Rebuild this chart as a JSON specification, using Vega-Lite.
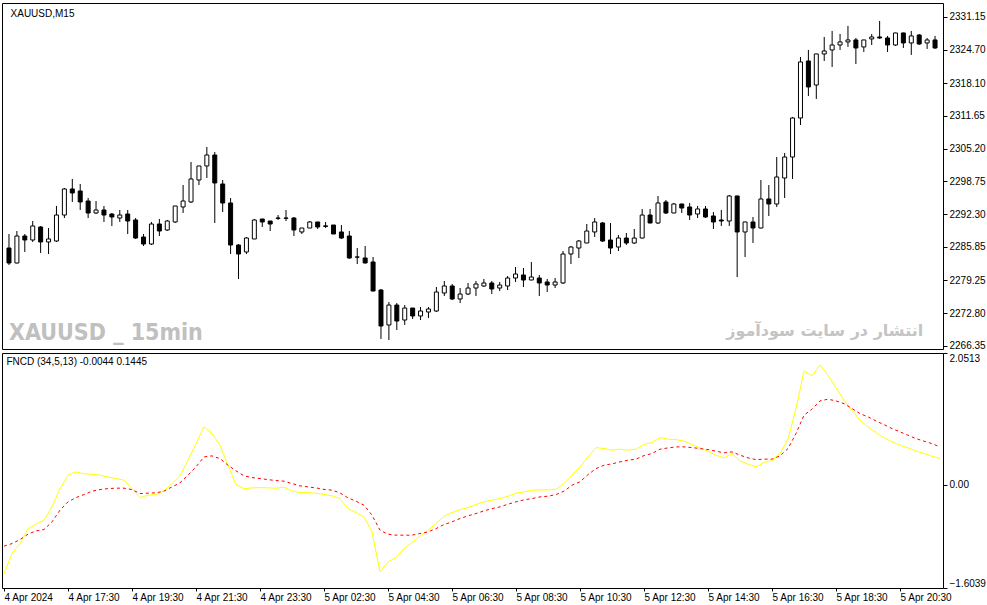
{
  "$schema": "https://vega.github.io/schema/vega-lite/v6.json",
  "background": "white",
  "padding": {"left": 1, "top": 2, "right": 0, "bottom": 0},
  "spacing": 0,
  "config": {
    "font": "Liberation Sans",
    "view": {"stroke": "black", "strokeWidth": 1},
    "axis": {
      "grid": false, "domain": false, "title": null,
      "tickColor": "black", "tickSize": 4,
      "labelColor": "black", "labelFontSize": 10, "labelFont": "Liberation Sans",
      "labelOverlap": false
    }
  },
  "datasets": {
    "bars": [
      {"i":0,"o":2285.64,"h":2288.40,"l":2282.30,"c":2282.69,"m":-1.380,"s":-0.953},
      {"i":1,"o":2282.69,"h":2288.99,"l":2282.60,"c":2288.01,"m":-1.068,"s":-0.913},
      {"i":2,"o":2288.01,"h":2288.40,"l":2284.86,"c":2287.22,"m":-0.913,"s":-0.851},
      {"i":3,"o":2287.22,"h":2290.96,"l":2286.83,"c":2289.98,"m":-0.680,"s":-0.767},
      {"i":4,"o":2289.78,"h":2289.98,"l":2284.66,"c":2286.83,"m":-0.611,"s":-0.715},
      {"i":5,"o":2286.83,"h":2289.58,"l":2284.46,"c":2287.42,"m":-0.549,"s":-0.695},
      {"i":6,"o":2287.02,"h":2293.92,"l":2286.83,"c":2292.14,"m":-0.342,"s":-0.575},
      {"i":7,"o":2292.14,"h":2297.46,"l":2291.55,"c":2297.27,"m":-0.058,"s":-0.393},
      {"i":8,"o":2297.27,"h":2299.24,"l":2294.71,"c":2296.48,"m":0.151,"s":-0.264},
      {"i":9,"o":2296.87,"h":2298.25,"l":2293.13,"c":2294.71,"m":0.202,"s":-0.198},
      {"i":10,"o":2294.90,"h":2295.49,"l":2291.55,"c":2292.54,"m":0.171,"s":-0.151},
      {"i":11,"o":2292.54,"h":2294.90,"l":2292.34,"c":2293.13,"m":0.166,"s":-0.098},
      {"i":12,"o":2293.13,"h":2293.92,"l":2290.77,"c":2292.14,"m":0.151,"s":-0.073},
      {"i":13,"o":2292.34,"h":2292.54,"l":2289.98,"c":2291.75,"m":0.124,"s":-0.058},
      {"i":14,"o":2291.55,"h":2293.13,"l":2290.77,"c":2292.14,"m":0.098,"s":-0.051},
      {"i":15,"o":2292.34,"h":2293.13,"l":2288.40,"c":2290.96,"m":0.073,"s":-0.051},
      {"i":16,"o":2291.16,"h":2291.55,"l":2287.42,"c":2287.61,"m":-0.058,"s":-0.073},
      {"i":17,"o":2287.81,"h":2288.40,"l":2286.04,"c":2286.43,"m":-0.198,"s":-0.135},
      {"i":18,"o":2286.43,"h":2290.77,"l":2286.23,"c":2290.37,"m":-0.160,"s":-0.129},
      {"i":19,"o":2290.37,"h":2291.36,"l":2288.01,"c":2288.99,"m":-0.151,"s":-0.124},
      {"i":20,"o":2289.19,"h":2291.16,"l":2288.99,"c":2290.96,"m":-0.093,"s":-0.098},
      {"i":21,"o":2290.77,"h":2293.92,"l":2290.57,"c":2293.92,"m":0.020,"s":-0.031},
      {"i":22,"o":2293.72,"h":2298.05,"l":2292.54,"c":2294.90,"m":0.140,"s":0.031},
      {"i":23,"o":2294.71,"h":2302.59,"l":2294.51,"c":2299.24,"m":0.384,"s":0.151},
      {"i":24,"o":2299.04,"h":2301.80,"l":2298.05,"c":2301.80,"m":0.642,"s":0.280},
      {"i":25,"o":2301.80,"h":2305.54,"l":2299.43,"c":2303.96,"m":0.902,"s":0.435},
      {"i":26,"o":2303.96,"h":2304.56,"l":2290.57,"c":2298.45,"m":0.798,"s":0.451},
      {"i":27,"o":2298.25,"h":2299.04,"l":2292.74,"c":2294.51,"m":0.617,"s":0.409},
      {"i":28,"o":2294.51,"h":2295.49,"l":2284.46,"c":2286.23,"m":0.306,"s":0.306},
      {"i":29,"o":2286.23,"h":2286.43,"l":2279.54,"c":2284.46,"m":0.005,"s":0.218},
      {"i":30,"o":2284.86,"h":2287.81,"l":2284.46,"c":2287.61,"m":-0.058,"s":0.140},
      {"i":31,"o":2287.42,"h":2291.36,"l":2287.42,"c":2291.16,"m":-0.047,"s":0.114},
      {"i":32,"o":2291.36,"h":2291.36,"l":2289.78,"c":2290.77,"m":-0.042,"s":0.098},
      {"i":33,"o":2290.96,"h":2290.96,"l":2288.99,"c":2290.37,"m":-0.047,"s":0.082},
      {"i":34,"o":2291.55,"h":2292.14,"l":2291.16,"c":2291.50,"m":-0.051,"s":0.067},
      {"i":35,"o":2291.55,"h":2293.13,"l":2290.96,"c":2291.50,"m":-0.036,"s":0.058},
      {"i":36,"o":2291.55,"h":2291.75,"l":2288.01,"c":2289.19,"m":-0.093,"s":0.020},
      {"i":37,"o":2288.80,"h":2289.58,"l":2288.40,"c":2289.58,"m":-0.120,"s":-0.016},
      {"i":38,"o":2289.58,"h":2290.96,"l":2289.58,"c":2290.77,"m":-0.120,"s":-0.031},
      {"i":39,"o":2290.77,"h":2290.77,"l":2289.39,"c":2289.78,"m":-0.129,"s":-0.047},
      {"i":40,"o":2290.00,"h":2290.77,"l":2289.58,"c":2289.90,"m":-0.148,"s":-0.070},
      {"i":41,"o":2290.17,"h":2290.17,"l":2288.40,"c":2288.40,"m":-0.171,"s":-0.082},
      {"i":42,"o":2288.80,"h":2290.17,"l":2287.42,"c":2287.61,"m":-0.213,"s":-0.124},
      {"i":43,"o":2288.01,"h":2288.99,"l":2283.48,"c":2283.68,"m":-0.369,"s":-0.202},
      {"i":44,"o":2283.87,"h":2285.64,"l":2282.49,"c":2283.85,"m":-0.431,"s":-0.253},
      {"i":45,"o":2283.68,"h":2286.04,"l":2282.60,"c":2282.69,"m":-0.498,"s":-0.316},
      {"i":46,"o":2282.89,"h":2283.87,"l":2277.10,"c":2277.17,"m":-0.731,"s":-0.471},
      {"i":47,"o":2277.37,"h":2277.57,"l":2267.72,"c":2270.28,"m":-1.353,"s":-0.705},
      {"i":48,"o":2270.48,"h":2275.00,"l":2267.52,"c":2274.41,"m":-1.198,"s":-0.767},
      {"i":49,"o":2274.41,"h":2274.81,"l":2269.49,"c":2271.26,"m":-1.131,"s":-0.782},
      {"i":50,"o":2271.46,"h":2274.41,"l":2270.48,"c":2273.82,"m":-0.991,"s":-0.782},
      {"i":51,"o":2273.82,"h":2273.82,"l":2271.66,"c":2272.25,"m":-0.897,"s":-0.782},
      {"i":52,"o":2272.25,"h":2274.02,"l":2271.46,"c":2273.23,"m":-0.798,"s":-0.757},
      {"i":53,"o":2273.04,"h":2274.02,"l":2271.85,"c":2273.63,"m":-0.705,"s":-0.731},
      {"i":54,"o":2273.23,"h":2277.96,"l":2273.04,"c":2276.98,"m":-0.602,"s":-0.680},
      {"i":55,"o":2276.78,"h":2279.14,"l":2276.19,"c":2278.16,"m":-0.487,"s":-0.617},
      {"i":56,"o":2278.16,"h":2278.55,"l":2275.40,"c":2275.60,"m":-0.431,"s":-0.575},
      {"i":57,"o":2275.60,"h":2277.76,"l":2274.81,"c":2276.58,"m":-0.384,"s":-0.524},
      {"i":58,"o":2276.58,"h":2278.75,"l":2276.38,"c":2277.76,"m":-0.353,"s":-0.482},
      {"i":59,"o":2277.76,"h":2279.14,"l":2276.19,"c":2278.55,"m":-0.306,"s":-0.446},
      {"i":60,"o":2278.16,"h":2279.54,"l":2277.96,"c":2278.75,"m":-0.264,"s":-0.404},
      {"i":61,"o":2278.75,"h":2279.14,"l":2276.58,"c":2277.57,"m":-0.238,"s":-0.369},
      {"i":62,"o":2277.76,"h":2278.95,"l":2277.17,"c":2278.35,"m":-0.213,"s":-0.342},
      {"i":63,"o":2278.16,"h":2280.13,"l":2277.37,"c":2279.73,"m":-0.176,"s":-0.300},
      {"i":64,"o":2279.73,"h":2281.90,"l":2278.95,"c":2280.52,"m":-0.129,"s":-0.264},
      {"i":65,"o":2280.33,"h":2281.70,"l":2277.96,"c":2279.34,"m":-0.109,"s":-0.233},
      {"i":66,"o":2279.34,"h":2282.89,"l":2279.30,"c":2279.93,"m":-0.082,"s":-0.213},
      {"i":67,"o":2279.73,"h":2280.33,"l":2276.19,"c":2278.75,"m":-0.078,"s":-0.187},
      {"i":68,"o":2278.95,"h":2279.54,"l":2276.98,"c":2278.35,"m":-0.078,"s":-0.176},
      {"i":69,"o":2278.35,"h":2279.73,"l":2277.76,"c":2278.95,"m":-0.067,"s":-0.151},
      {"i":70,"o":2278.75,"h":2285.05,"l":2278.55,"c":2284.46,"m":0.020,"s":-0.098},
      {"i":71,"o":2284.46,"h":2286.04,"l":2282.49,"c":2285.84,"m":0.151,"s":-0.005},
      {"i":72,"o":2285.64,"h":2287.22,"l":2283.68,"c":2287.02,"m":0.280,"s":0.047},
      {"i":73,"o":2286.63,"h":2290.37,"l":2286.60,"c":2288.99,"m":0.435,"s":0.160},
      {"i":74,"o":2288.80,"h":2291.55,"l":2287.81,"c":2290.77,"m":0.580,"s":0.253},
      {"i":75,"o":2290.57,"h":2290.77,"l":2286.83,"c":2287.02,"m":0.565,"s":0.306},
      {"i":76,"o":2287.22,"h":2290.57,"l":2284.46,"c":2285.64,"m":0.540,"s":0.327},
      {"i":77,"o":2285.84,"h":2288.20,"l":2285.05,"c":2287.61,"m":0.555,"s":0.358},
      {"i":78,"o":2287.61,"h":2288.60,"l":2286.23,"c":2286.63,"m":0.540,"s":0.384},
      {"i":79,"o":2286.63,"h":2289.39,"l":2286.43,"c":2287.61,"m":0.555,"s":0.400},
      {"i":80,"o":2287.61,"h":2293.33,"l":2287.50,"c":2292.14,"m":0.630,"s":0.456},
      {"i":81,"o":2292.14,"h":2293.33,"l":2290.50,"c":2290.57,"m":0.658,"s":0.487},
      {"i":82,"o":2290.57,"h":2295.89,"l":2290.37,"c":2294.51,"m":0.736,"s":0.555},
      {"i":83,"o":2294.71,"h":2295.10,"l":2292.34,"c":2292.54,"m":0.711,"s":0.575},
      {"i":84,"o":2292.54,"h":2294.51,"l":2292.50,"c":2294.31,"m":0.705,"s":0.591},
      {"i":85,"o":2294.31,"h":2294.35,"l":2292.54,"c":2293.52,"m":0.680,"s":0.591},
      {"i":86,"o":2293.72,"h":2294.51,"l":2291.16,"c":2292.14,"m":0.627,"s":0.580},
      {"i":87,"o":2292.34,"h":2293.92,"l":2291.55,"c":2293.33,"m":0.575,"s":0.565},
      {"i":88,"o":2293.33,"h":2293.92,"l":2291.55,"c":2291.75,"m":0.524,"s":0.549},
      {"i":89,"o":2291.95,"h":2292.74,"l":2289.39,"c":2290.77,"m":0.462,"s":0.524},
      {"i":90,"o":2291.16,"h":2293.13,"l":2289.98,"c":2290.96,"m":0.420,"s":0.498},
      {"i":91,"o":2290.96,"h":2296.08,"l":2289.98,"c":2295.89,"m":0.487,"s":0.513},
      {"i":92,"o":2295.89,"h":2295.95,"l":2279.93,"c":2288.80,"m":0.373,"s":0.462},
      {"i":93,"o":2288.80,"h":2290.80,"l":2283.87,"c":2290.77,"m":0.322,"s":0.420},
      {"i":94,"o":2290.77,"h":2291.75,"l":2286.63,"c":2289.58,"m":0.280,"s":0.393},
      {"i":95,"o":2289.58,"h":2299.04,"l":2289.50,"c":2295.30,"m":0.347,"s":0.400},
      {"i":96,"o":2295.30,"h":2298.05,"l":2291.95,"c":2294.31,"m":0.378,"s":0.400},
      {"i":97,"o":2294.31,"h":2303.57,"l":2293.72,"c":2299.63,"m":0.487,"s":0.451},
      {"i":98,"o":2299.43,"h":2304.36,"l":2295.49,"c":2303.57,"m":0.711,"s":0.565},
      {"i":99,"o":2303.57,"h":2311.45,"l":2299.24,"c":2311.25,"m":1.187,"s":0.798},
      {"i":100,"o":2311.25,"h":2323.27,"l":2309.87,"c":2322.29,"m":1.773,"s":1.084},
      {"i":101,"o":2322.48,"h":2324.65,"l":2315.59,"c":2317.36,"m":1.695,"s":1.177},
      {"i":102,"o":2317.75,"h":2323.90,"l":2315.00,"c":2323.86,"m":1.862,"s":1.306},
      {"i":103,"o":2323.86,"h":2327.21,"l":2322.48,"c":2324.45,"m":1.706,"s":1.333},
      {"i":104,"o":2324.65,"h":2328.39,"l":2321.30,"c":2325.63,"m":1.509,"s":1.306},
      {"i":105,"o":2325.63,"h":2327.80,"l":2324.65,"c":2326.23,"m":1.317,"s":1.264},
      {"i":106,"o":2326.23,"h":2329.38,"l":2325.24,"c":2326.62,"m":1.162,"s":1.187},
      {"i":107,"o":2326.62,"h":2327.01,"l":2321.89,"c":2325.04,"m":1.006,"s":1.109},
      {"i":108,"o":2325.24,"h":2326.65,"l":2324.26,"c":2326.62,"m":0.902,"s":1.058},
      {"i":109,"o":2326.82,"h":2327.80,"l":2325.63,"c":2327.21,"m":0.813,"s":0.995},
      {"i":110,"o":2327.21,"h":2330.36,"l":2326.82,"c":2327.01,"m":0.736,"s":0.938},
      {"i":111,"o":2327.01,"h":2327.41,"l":2324.26,"c":2325.63,"m":0.669,"s":0.876},
      {"i":112,"o":2325.63,"h":2328.05,"l":2325.44,"c":2328.00,"m":0.617,"s":0.824},
      {"i":113,"o":2328.00,"h":2328.05,"l":2325.04,"c":2326.03,"m":0.575,"s":0.773},
      {"i":114,"o":2326.03,"h":2328.39,"l":2323.67,"c":2327.41,"m":0.529,"s":0.720},
      {"i":115,"o":2327.60,"h":2327.80,"l":2325.63,"c":2325.83,"m":0.487,"s":0.680},
      {"i":116,"o":2326.03,"h":2327.01,"l":2324.85,"c":2326.62,"m":0.446,"s":0.642},
      {"i":117,"o":2326.62,"h":2327.41,"l":2324.85,"c":2325.04,"m":0.409,"s":0.591}
    ],
    "toplabels": [
      {"t": "XAUUSD,M15"}
    ],
    "mark1": [
      {"t": "XAUUSD _ 15min"}
    ],
    "mark2": [
      {"t": "انتشار در سایت سودآموز"}
    ],
    "legend": [
      {"t": "FNCD (34,5,13) -0.0044 0.1445"}
    ]
  },
  "vconcat": [
    {
      "width": 941,
      "height": 346,
      "layer": [
        {
          "data": {"name": "bars"},
          "mark": {"type": "rule", "color": "black", "strokeWidth": 1},
          "encoding": {
            "x": {"field": "i", "type": "quantitative", "axis": null,
                  "scale": {"domain": [-0.25, 117.375], "nice": false, "zero": false}},
            "y": {"field": "l", "type": "quantitative",
                  "scale": {"domain": [2265.75, 2333.9], "nice": false, "zero": false},
                  "axis": {"orient": "right", "format": ".2f", "labelFlush": false, "labelOverlap": false, "tickCount": 11,
                           "values": [2266.35, 2272.80, 2279.25, 2285.85, 2292.30, 2298.75, 2305.20, 2311.65, 2318.10, 2324.70, 2331.15]}},
            "y2": {"field": "h"}
          }
        },
        {
          "data": {"name": "bars"},
          "mark": {"type": "bar", "size": 4, "stroke": "black", "strokeWidth": 1},
          "encoding": {
            "x": {"field": "i", "type": "quantitative"},
            "y": {"field": "o", "type": "quantitative"},
            "y2": {"field": "c"},
            "fill": {"condition": {"test": "datum.c < datum.o", "value": "black"}, "value": "white"}
          }
        },
        {
          "data": {"name": "toplabels"},
          "mark": {"type": "text", "align": "left", "baseline": "middle",
                   "font": "Liberation Sans", "fontSize": 10, "fill": "#000000"},
          "encoding": {"x": {"datum": 0.2}, "y": {"datum": 2331.8}, "text": {"field": "t"}}
        },
        {
          "data": {"name": "mark1"},
          "mark": {"type": "text", "align": "left", "baseline": "alphabetic",
                   "font": "DejaVu Sans Condensed, Liberation Sans", "fontWeight": "bold", "fontSize": 23, "fill": "#c0c0c0"},
          "encoding": {"x": {"datum": 0.0}, "y": {"datum": 2267.6}, "text": {"field": "t"}}
        },
        {
          "data": {"name": "mark2"},
          "mark": {"type": "text", "align": "right", "baseline": "alphabetic",
                   "font": "DejaVu Sans", "fontWeight": "bold", "fontSize": 16, "fill": "#c4c4c4"},
          "encoding": {"x": {"datum": 115.5}, "y": {"datum": 2268.4}, "text": {"field": "t"}}
        }
      ]
    },
    {
      "width": 941,
      "height": 235,
      "layer": [
        {
          "data": {"name": "bars"},
          "mark": {"type": "line", "color": "#ffff00", "strokeWidth": 1},
          "encoding": {
            "x": {"field": "i", "type": "quantitative",
                  "scale": {"domain": [-0.25, 117.375], "nice": false, "zero": false},
                  "axis": {"values": [0, 8, 16, 24, 32, 40, 48, 56, 64, 72, 80, 88, 96, 104, 112], "tickCount": 15,
                           "labelAlign": "left", "labelFlush": false, "labelOverlap": false, "labelPadding": 1, "tickSize": 3,
                           "labelExpr": "['4 Apr 2024','4 Apr 17:30','4 Apr 19:30','4 Apr 21:30','4 Apr 23:30','5 Apr 02:30','5 Apr 04:30','5 Apr 06:30','5 Apr 08:30','5 Apr 10:30','5 Apr 12:30','5 Apr 14:30','5 Apr 16:30','5 Apr 18:30','5 Apr 20:30'][round(datum.value / 8)]"}},
            "y": {"field": "m", "type": "quantitative",
                  "scale": {"domain": [-1.6039, 2.0513], "nice": false, "zero": false},
                  "axis": {"orient": "right", "values": [-1.6039, 0, 2.0513], "labelFlush": true, "labelOverlap": false, "tickCount": 3,
                           "labelExpr": "datum.value == 0 ? '0.00' : format(datum.value, '.4f')"}}
          }
        },
        {
          "data": {"name": "bars"},
          "mark": {"type": "line", "color": "#ff0000", "strokeWidth": 1, "strokeDash": [3, 3]},
          "encoding": {
            "x": {"field": "i", "type": "quantitative"},
            "y": {"field": "s", "type": "quantitative"}
          }
        },
        {
          "data": {"name": "legend"},
          "mark": {"type": "text", "align": "left", "baseline": "middle",
                   "font": "Liberation Sans", "fontSize": 10, "fill": "#000000"},
          "encoding": {"x": {"datum": 0.3}, "y": {"datum": 1.91}, "text": {"field": "t"}}
        }
      ]
    }
  ]
}
